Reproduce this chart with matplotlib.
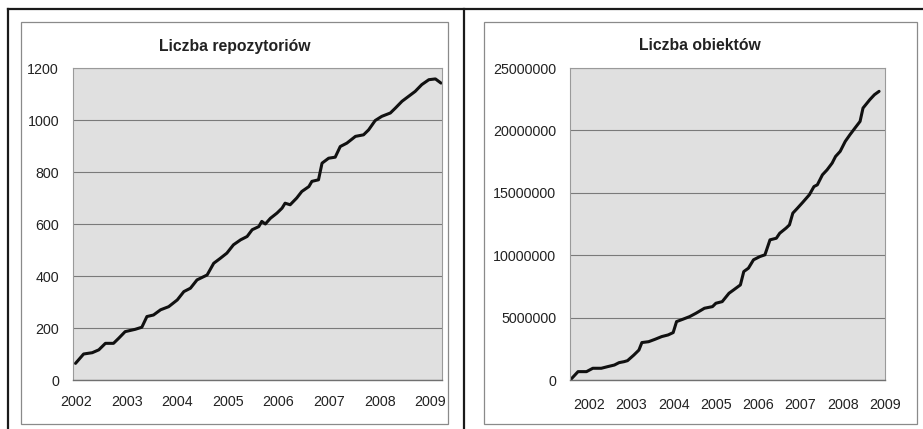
import matplotlib
matplotlib.use("Agg")
import matplotlib.pyplot as plt
from matplotlib.patches import Rectangle
from matplotlib.lines import Line2D

plt.rcParams['font.family'] = ['Liberation Sans', 'DejaVu Sans']

# ---------------- data ----------------
repo_title = "Liczba repozytoriów"
repo_t = [2001.99, 2002.15, 2002.32, 2002.45, 2002.58, 2002.74, 2002.84, 2002.97,
          2003.17, 2003.30, 2003.40, 2003.53, 2003.67, 2003.83, 2004.00, 2004.13,
          2004.26, 2004.39, 2004.59, 2004.72, 2004.85, 2004.98, 2005.11, 2005.25,
          2005.38, 2005.48, 2005.61, 2005.67, 2005.74, 2005.84, 2005.97, 2006.07,
          2006.13, 2006.23, 2006.36, 2006.46, 2006.60, 2006.66, 2006.79, 2006.86,
          2006.99, 2007.12, 2007.22, 2007.35, 2007.52, 2007.68, 2007.78, 2007.91,
          2008.04, 2008.21, 2008.31, 2008.44, 2008.57, 2008.70, 2008.83, 2008.97,
          2009.10, 2009.21]
repo_v = [64, 100, 105, 116, 141, 141, 160, 186,
          195, 203, 244, 250, 270, 282, 308, 340,
          353, 385, 404, 449, 468, 488, 520, 539,
          552, 578, 590, 610, 600, 622, 642, 661,
          680, 674, 700, 725, 744, 764, 770, 834,
          853, 857, 898, 911, 937, 943, 962, 998,
          1014, 1027, 1046, 1072, 1091, 1110, 1136, 1155,
          1158, 1142]
repo_yticks = [0, 200, 400, 600, 800, 1000, 1200]
repo_years = [2002, 2003, 2004, 2005, 2006, 2007, 2008, 2009]

obj_title = "Liczba obiektów"
obj_t = [2002.07, 2002.24, 2002.44, 2002.59, 2002.79, 2002.94, 2003.10, 2003.21,
         2003.33, 2003.41, 2003.56, 2003.68, 2003.75, 2003.91, 2004.06, 2004.22,
         2004.37, 2004.49, 2004.57, 2004.72, 2004.88, 2005.03, 2005.23, 2005.42,
         2005.50, 2005.65, 2005.81, 2005.92, 2006.08, 2006.16, 2006.27, 2006.39,
         2006.54, 2006.66, 2006.78, 2006.93, 2007.01, 2007.16, 2007.24, 2007.32,
         2007.43, 2007.55, 2007.71, 2007.82, 2007.90, 2008.02, 2008.13, 2008.25,
         2008.33, 2008.44, 2008.56, 2008.67, 2008.79, 2008.91, 2008.98, 2009.14,
         2009.25, 2009.36]
obj_v = [0.05e6, 0.67e6, 0.67e6, 0.94e6, 0.94e6, 1.07e6, 1.20e6, 1.39e6,
         1.47e6, 1.55e6, 2.00e6, 2.40e6, 3.00e6, 3.07e6, 3.26e6, 3.48e6,
         3.61e6, 3.80e6, 4.68e6, 4.87e6, 5.08e6, 5.35e6, 5.75e6, 5.88e6,
         6.15e6, 6.28e6, 6.95e6, 7.22e6, 7.62e6, 8.69e6, 8.96e6, 9.63e6,
         9.89e6, 10.03e6, 11.23e6, 11.36e6, 11.76e6, 12.17e6, 12.43e6, 13.37e6,
         13.77e6, 14.22e6, 14.84e6, 15.50e6, 15.64e6, 16.44e6, 16.84e6, 17.38e6,
         17.91e6, 18.32e6, 19.12e6, 19.65e6, 20.19e6, 20.72e6, 21.79e6, 22.46e6,
         22.86e6, 23.13e6]
obj_yticks = [0, 5000000, 10000000, 15000000, 20000000, 25000000]
obj_years = [2002, 2003, 2004, 2005, 2006, 2007, 2008, 2009]

# ---------------- figure ----------------
W, H = 923, 429
fig = plt.figure(figsize=(W / 100, H / 100), dpi=100)
fig.patch.set_facecolor('white')

TEXT = '#222222'
BG = '#e0e0e0'
GRID = '#7a7a7a'


def fx(px):
    return px / W


def fy(py):
    return 1 - py / H


def style_axes(ax, yticks, ylabels, years, xlabel_offset, xpad):
    ax.set_facecolor(BG)
    ax.set_yticks(yticks)
    ax.set_yticklabels(ylabels)
    ax.set_ylim(yticks[0], yticks[-1])
    ax.set_xticks([y + xlabel_offset for y in years])
    ax.set_xticklabels([str(y) for y in years])
    ax.yaxis.grid(True, color=GRID, lw=0.8)
    ax.set_axisbelow(True)
    ax.tick_params(axis='both', length=0, labelsize=10.3, colors=TEXT)
    ax.tick_params(axis='y', pad=10)
    ax.tick_params(axis='x', pad=xpad)
    for s in ax.spines.values():
        s.set_color('#9a9a9a')
        s.set_linewidth(0.8)
    ax.spines['bottom'].set_color('#707070')
    ax.spines['bottom'].set_linewidth(1.0)


# left chart
ax1 = fig.add_axes([fx(73), fy(380), fx(442) - fx(73), fy(68) - fy(380)])
ax1.plot(repo_t, repo_v, color='#111111', lw=2.2, solid_joinstyle='round',
         solid_capstyle='round')
ax1.set_xlim(2001.94, 2009.23)
style_axes(ax1, repo_yticks, [str(v) for v in repo_yticks], repo_years, 0.0, 11)

# right chart
ax2 = fig.add_axes([fx(570), fy(380), fx(885) - fx(570), fy(68) - fy(380)])
ax2.plot(obj_t, obj_v, color='#111111', lw=2.2, solid_joinstyle='round',
         solid_capstyle='round')
ax2.set_xlim(2002.05, 2009.37)
style_axes(ax2, obj_yticks, [str(v) for v in obj_yticks], obj_years, 0.5, 13)

# titles
fig.text(fx(235), fy(47), repo_title, ha='center', va='center',
         fontsize=11.3, fontweight='bold', color=TEXT)
fig.text(fx(700), fy(46), obj_title, ha='center', va='center',
         fontsize=11.3, fontweight='bold', color=TEXT)

# chart area frames
for x0, x1 in [(21, 448), (484, 917)]:
    fig.add_artist(Rectangle((fx(x0), fy(424)), fx(x1) - fx(x0), fy(22) - fy(424),
                             transform=fig.transFigure, fill=False,
                             ec='#8a8a8a', lw=0.9))

# outer black table lines
fig.add_artist(Line2D([fx(8), 1.0], [fy(9), fy(9)], transform=fig.transFigure,
                      color='#1a1a1a', lw=1.6))
fig.add_artist(Line2D([fx(8), fx(8)], [fy(9), 0.0], transform=fig.transFigure,
                      color='#1a1a1a', lw=1.6))
fig.add_artist(Line2D([fx(464), fx(464)], [fy(9), 0.0], transform=fig.transFigure,
                      color='#1a1a1a', lw=1.6))

fig.savefig('out.png', dpi=100, facecolor='white')
